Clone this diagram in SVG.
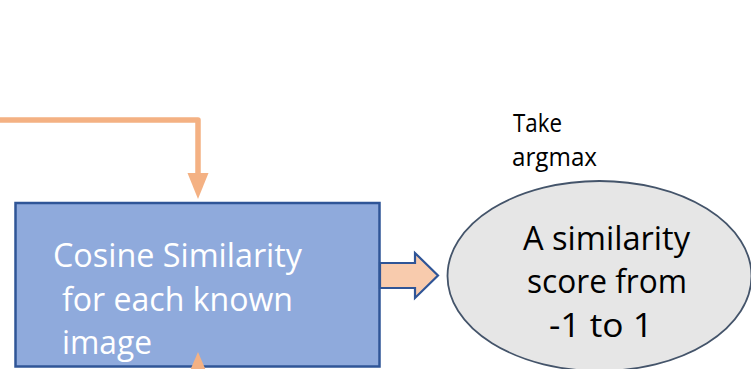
<svg xmlns="http://www.w3.org/2000/svg" width="751" height="369" viewBox="0 0 751 369">
<style>
.big{font-family:"Open Sans","Liberation Sans",sans-serif;font-size:32px}
.small{font-family:"Open Sans","Liberation Sans",sans-serif;font-size:25px;fill:#000}
.orange{fill:none;stroke:#F4B183;stroke-width:5.5;stroke-linejoin:round}
</style>
<rect width="751" height="369" fill="#ffffff"/>
<g id="cosine">
  <rect x="15.5" y="203" width="364" height="163.5" fill="#8FAADC" stroke="#2F5597" stroke-width="2.5"/>
  <text class="big" fill="#ffffff" x="53" y="267" textLength="249" lengthAdjust="spacingAndGlyphs">Cosine Similarity</text>
  <text class="big" fill="#ffffff" x="62" y="311" textLength="231" lengthAdjust="spacingAndGlyphs">for each known</text>
  <text class="big" fill="#ffffff" x="62" y="354" textLength="90" lengthAdjust="spacingAndGlyphs">image</text>
</g>
<g id="take-argmax">
  <text class="small" x="513" y="132" textLength="49" lengthAdjust="spacingAndGlyphs">Take</text>
  <text class="small" x="512" y="166" textLength="85" lengthAdjust="spacingAndGlyphs">argmax</text>
</g>
<g id="score">
  <ellipse cx="599.5" cy="276" rx="152" ry="95" fill="#E6E6E6" stroke="#44546A" stroke-width="1.8"/>
  <text class="big" fill="#000000" x="523" y="250" textLength="167" lengthAdjust="spacingAndGlyphs">A similarity</text>
  <text class="big" fill="#000000" x="527" y="293" textLength="160" lengthAdjust="spacingAndGlyphs">score from</text>
  <text class="big" fill="#000000" x="549" y="337" textLength="104" lengthAdjust="spacingAndGlyphs">-1 to 1</text>
</g>
<g id="connectors">
  <path class="orange" d="M0,120 H198 V176"/>
  <polygon points="187.5,173 208.5,173 198,199" fill="#F4B183"/>
  <polygon points="198,352 189,373 207,373" fill="#F4B183"/>
  <polygon points="380,263 415,263 415,253 438,275.5 415,298 415,288 380,288" fill="#F8CBAD" stroke="#2F5597" stroke-width="2.2" stroke-linejoin="miter"/>
</g>
</svg>
